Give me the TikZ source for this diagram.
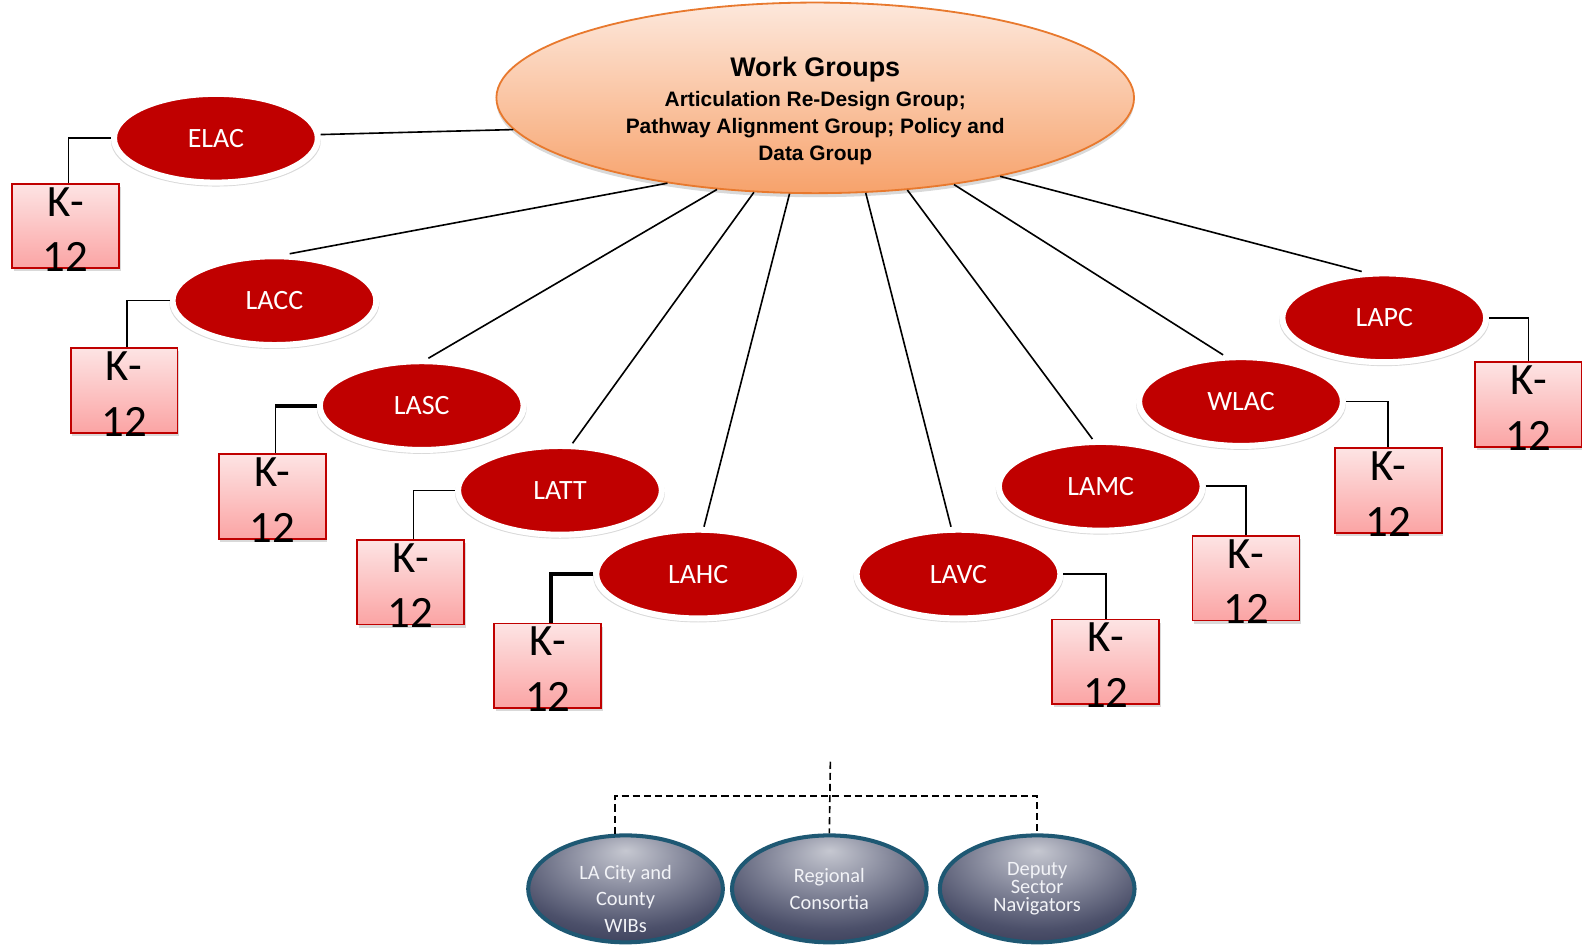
\documentclass[tikz,border=0pt]{standalone}
\usepackage{fontspec}
\setmainfont{Carlito}
\newfontfamily\wgfont{Liberation Sans}
\usetikzlibrary{shapes.geometric,shadows}
\newlength\upx
\setlength\upx{0.020179cm}
\definecolor{redc}{HTML}{C00000}
\definecolor{wgborder}{HTML}{E8792E}
\definecolor{wgtop}{HTML}{FDE8DC}
\definecolor{wgbot}{HTML}{F7A26B}
\definecolor{ktop}{HTML}{FDE4E4}
\definecolor{kbot}{HTML}{FBA4A4}
\definecolor{tealb}{HTML}{1E5873}
\definecolor{bubA}{HTML}{C6C8D1}
\definecolor{bubM}{HTML}{8C8FA1}
\definecolor{bubC}{HTML}{4C506A}
\definecolor{bubB}{HTML}{282B48}
\definecolor{bubtext}{HTML}{F2F3F7}
\pgfdeclareradialshading{bubble}{\pgfpoint{0bp}{18bp}}{color(0bp)=(bubA); color(14bp)=(bubM); color(30bp)=(bubC); color(46bp)=(bubB); color(80bp)=(bubB)}
\begin{document}
\begin{tikzpicture}[x=0.020179cm,y=-0.020179cm,
  wg/.style={ellipse, draw=wgborder, line width=1.8\upx, top color=wgtop, bottom color=wgbot,
    minimum width=632\upx, minimum height=180\upx, inner sep=0pt, align=center,
    font=\wgfont\bfseries\fontsize{11.9}{15.6}\selectfont,
    drop shadow={opacity=0.3, shadow xshift=0pt, shadow yshift=-4\upx}},
  college/.style={ellipse, fill=redc, draw=white, line width=6\upx,
    minimum width=202\upx, minimum height=88\upx, inner sep=0pt, text=white,
    font=\fontsize{15.9}{19}\selectfont,
    drop shadow={opacity=0.3, shadow scale=1.03, shadow xshift=0pt, shadow yshift=-2.5\upx}},
  kbox/.style={rectangle, draw=redc, line width=1.8\upx, top color=ktop, bottom color=kbot,
    minimum width=106\upx, minimum height=84\upx, inner sep=0pt,
    drop shadow={opacity=0.3, shadow xshift=1.5\upx, shadow yshift=-3\upx}},
  ktext/.style={align=center, inner sep=0pt, font=\fontsize{25.5}{31.7}\selectfont},
  link/.style={line width=1.6\upx},
  thicklink/.style={line width=4\upx},
  bub/.style={ellipse, draw=tealb, line width=4\upx, shading=bubble,
    minimum width=193\upx, minimum height=106\upx, inner sep=0pt, align=center,
    text=bubtext, font=\fontsize{11.6}{15.3}\selectfont},
  bubtxt/.style={align=center, inner sep=0pt, text=bubtext, font=\fontsize{11.6}{15.3}\selectfont},
  dlink/.style={line width=1.6\upx, dash pattern=on 7\upx off 4\upx}
]
\useasboundingbox (0,0) rectangle (1568,941);

% hub
\node[wg] (wg) at (808,97) {\rule{0pt}{46\upx}{\fontsize{15.3}{18}\selectfont Work Groups}\\[1pt]
  Articulation Re-Design Group;\\ Pathway Alignment Group; Policy and\\ Data Group};

% colleges
\node[college] (elac) at (214,137) {ELAC};
\node[college] (lacc) at (272,298) {LACC};
\node[college] (lasc) at (418,402) {LASC};
\node[college] (latt) at (555,486) {LATT};
\node[college] (lahc) at (692,569) {LAHC};
\node[college] (lavc) at (950,569) {LAVC};
\node[college] (lamc) at (1091,482) {LAMC};
\node[college] (wlac) at (1230,398) {WLAC};
\node[college] (lapc) at (1372,315) {LAPC};

% K-12 boxes
\foreach \n/\x/\y in {k1/65/224, k2/123/387, k3/270/492, k4/407/577, k5/543/660,
                      k6/1096/656, k7/1235/573, k8/1376/486, k9/1515/401}{
  \node[kbox] (\n) at (\x,\y) {};
  \node[ktext] (\n t) at ([yshift=-3.5\upx]\n.center) {K-\\12};
}

% hub links
\draw[link] (wg.186) -- (elac.2);
\draw[link] (wg.210) -- (lacc.72);
\draw[link] (wg.223) -- (lasc.82);
\draw[link] (wg.237) -- (latt.75);
\draw[link] (wg.255) -- (lahc.83);
\draw[link] (wg.298) -- (lavc.99);
\draw[link] (wg.315) -- (lamc.100);
\draw[link] (wg.328) -- (wlac.111);
\draw[link] (wg.337) -- (lapc.116);

% K-12 links
\coordinate (k3top) at ([xshift=3\upx]k3.north);
\path (lasc.west) -| (k3top) coordinate[pos=0.5] (lascbend);
\draw[link] (elac.west) -| ([xshift=3\upx]k1.north);
\draw[link] (lacc.west) -| ([xshift=3\upx]k2.north);
\draw[thicklink] (lasc.west) -- (lascbend);
\draw[link] (lascbend) -- (k3top);
\draw[link] (latt.west) -| ([xshift=3\upx]k4.north);
\draw[thicklink] (lahc.west) -| ([xshift=3\upx]k5.north);
\draw[link] (lavc.east) -| (k6.north);
\draw[link] (lamc.east) -| (k7.north);
\draw[link] (wlac.east) -| (k8.north);
\draw[link] (lapc.east) -| (k9.north);

% bottom group
\node[bub] (la) at (620,881) {};
\node[bubtxt] (latext) at (620,891) {LA City and\\County\\WIBs};
\node[bub] (rc) at (822,881) {Regional\\Consortia};
\node[bub, font=\fontsize{11.6}{10.2}\selectfont] (dep) at (1028,881) {Deputy\\Sector\\Navigators};
\coordinate (top) at (823,755);
\coordinate (bar) at (823,789);
\draw[dlink] (top) -- (rc.north);
\draw[dlink] (la.101) |- (bar) -| (dep.north);
\end{tikzpicture}
\end{document}
